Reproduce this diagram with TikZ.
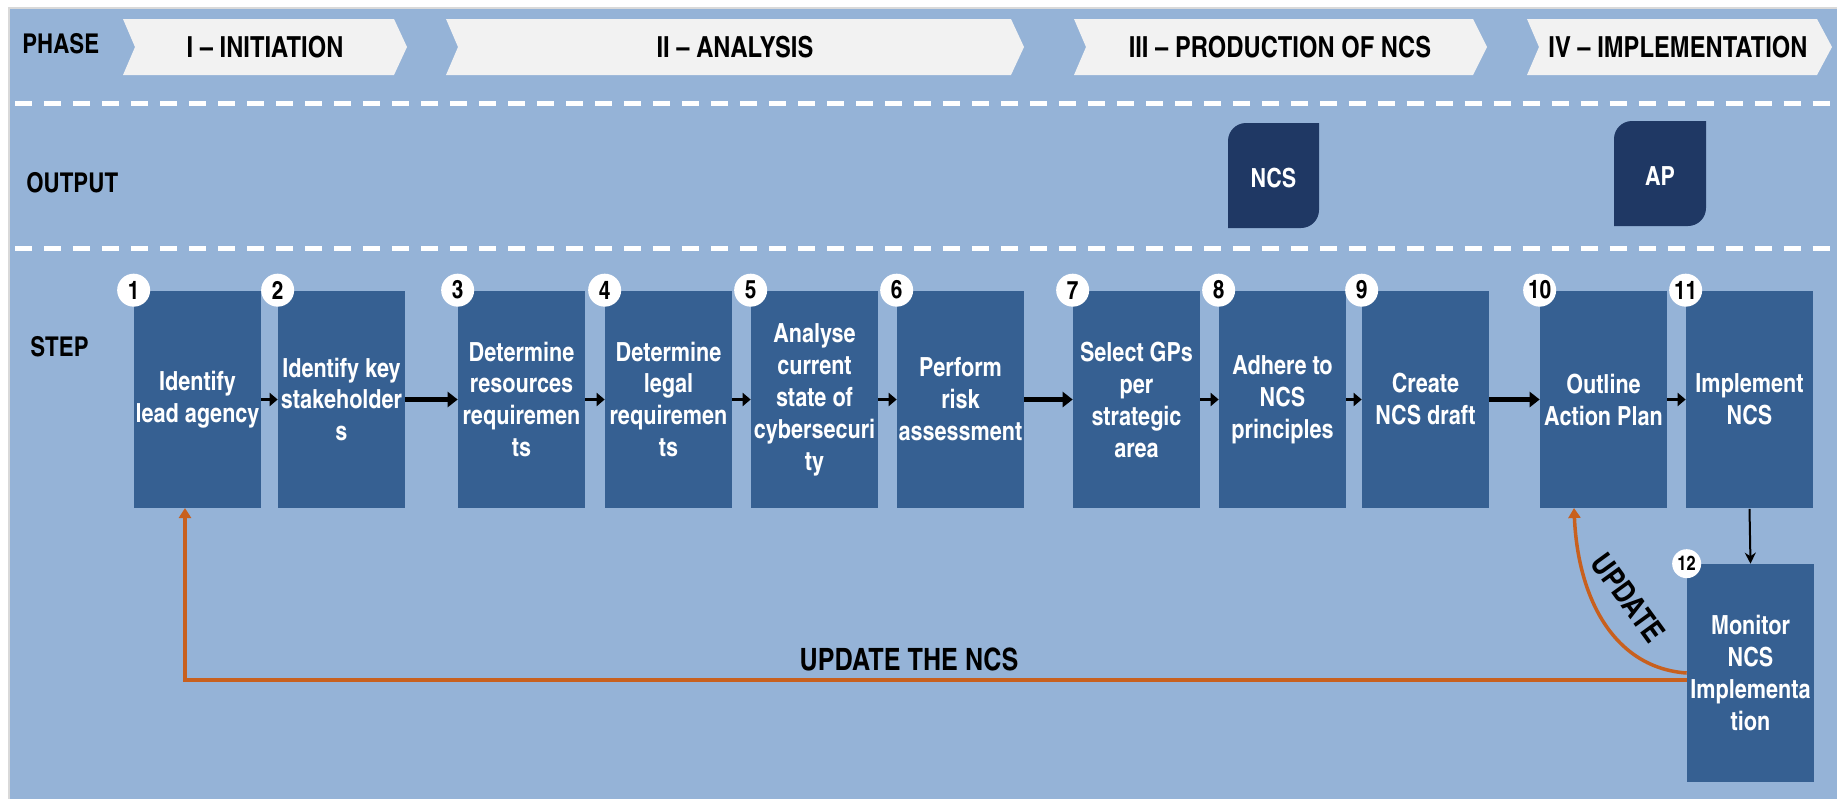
\documentclass[tikz,border=0pt]{standalone}
\usepackage{fontspec}
\setmainfont{texgyreheroscn}[Extension=.otf, UprightFont=*-regular, BoldFont=*-bold, ItalicFont=*-italic, BoldItalicFont=*-bolditalic]
\usetikzlibrary{arrows.meta}
\definecolor{bgblue}{HTML}{95B3D7}
\definecolor{boxblue}{HTML}{366092}
\definecolor{outnavy}{HTML}{1F3864}
\definecolor{chevgrey}{HTML}{F2F2F2}
\definecolor{updorange}{HTML}{C8601E}
\definecolor{edgegrey}{HTML}{D9D9D9}

\begin{document}
\begin{tikzpicture}[x=0.02cm, y=0.02cm]
\tikzstyle{every node}+=[inner sep=0pt]
\tikzstyle{stepbox}=[fill=boxblue, text=white, minimum width=2.54cm, minimum height=4.36cm, align=center, font=\fontsize{15}{18.2}\selectfont\bfseries]
\tikzstyle{numdot}=[circle, fill=white, minimum size=0.66cm, font=\fontsize{14.5}{16}\selectfont\bfseries]
\tikzstyle{rowlabel}=[anchor=west, font=\fontsize{15.5}{18}\selectfont\bfseries]
\tikzstyle{phasetext}=[font=\fontsize{16.5}{18}\selectfont\bfseries]
\tikzstyle{outtext}=[text=white, font=\fontsize{15}{18}\selectfont\bfseries]
\tikzstyle{updtext}=[font=\fontsize{17.5}{19}\selectfont\bfseries]
\tikzstyle{divider}=[white, line width=0.1cm, dash pattern=on 0.34cm off 0.24cm]
\tikzstyle{thinarrow}=[black, line width=0.06cm, -{Triangle[length=0.16cm,width=0.26cm]}]
\tikzstyle{thickarrow}=[black, line width=0.1cm, -{Triangle[length=0.2cm,width=0.3cm]}]
\tikzstyle{downarrow}=[black, line width=0.04cm, -{Stealth[length=0.22cm,width=0.22cm]}]
\tikzstyle{updline}=[updorange, line width=0.07cm, -{Triangle[length=0.2cm,width=0.24cm]}]
\useasboundingbox (0,0) rectangle (1837,-799);
\fill [white] (0,0) rectangle (1837,-799);
\fill [bgblue] (10,-9) rectangle (1837,-799);
\draw [edgegrey, line width=0.04cm] (9,-799) -- (9,-8) -- (1837,-8);
% phase row
\fill [chevgrey] (123,-19) -- (394,-19) -- (407,-47) -- (394,-75) -- (123,-75) -- (135,-47) -- cycle;
\node [phasetext] (ph1) at (265,-47) {I \textendash{} INITIATION};
\fill [chevgrey] (446,-19) -- (1011,-19) -- (1024,-47) -- (1011,-75) -- (446,-75) -- (458,-47) -- cycle;
\node [phasetext] (ph2) at (735,-47) {II \textendash{} ANALYSIS};
\fill [chevgrey] (1074,-19) -- (1473,-19) -- (1487,-47) -- (1473,-75) -- (1074,-75) -- (1086,-47) -- cycle;
\node [phasetext] (ph3) at (1280,-47) {III \textendash{} PRODUCTION OF NCS};
\fill [chevgrey] (1527,-19) -- (1817,-19) -- (1832,-47) -- (1817,-75) -- (1527,-75) -- (1539,-47) -- cycle;
\node [phasetext] (ph4) at (1678,-47) {IV \textendash{} IMPLEMENTATION};
\draw [divider] (15,-103) -- (1837,-103);
\draw [divider] (15,-248) -- (1837,-248);
\node [rowlabel] (phase) at (22,-44) {PHASE};
\node [rowlabel] (output) at (26,-183) {OUTPUT};
\node [rowlabel] (step) at (30,-347) {STEP};
% outputs
\fill [outnavy] (1228,-228) -- (1228,-141) arc (180:90:18) -- (1319,-123) -- (1319,-210) arc (0:-90:18) -- cycle;
\node [outtext] (ncs) at (1273.5,-178) {NCS};
\fill [outnavy] (1614,-226) -- (1614,-139) arc (180:90:18) -- (1706,-121) -- (1706,-208) arc (0:-90:18) -- cycle;
\node [outtext] (ap) at (1660,-176) {AP};
% steps
\node [stepbox] (b1) at (197.5,-399.5) {Identify\\lead agency};
\node [stepbox] (b2) at (341.5,-399.5) {Identify key\\stakeholder\\s};
\node [stepbox] (b3) at (521.5,-399.5) {Determine\\resources\\requiremen\\ts};
\node [stepbox] (b4) at (668.5,-399.5) {Determine\\legal\\requiremen\\ts};
\node [stepbox] (b5) at (814.5,-399.5) {Analyse\\current\\state of\\cybersecuri\\ty};
\node [stepbox] (b6) at (960.5,-399.5) {Perform\\risk\\assessment};
\node [stepbox] (b7) at (1136.5,-399.5) {Select GPs\\per\\strategic\\area};
\node [stepbox] (b8) at (1282.5,-399.5) {Adhere to\\NCS\\principles};
\node [stepbox] (b9) at (1425.5,-399.5) {Create\\NCS draft};
\node [stepbox] (b10) at (1603.5,-399.5) {Outline\\Action Plan};
\node [stepbox] (b11) at (1749.5,-399.5) {Implement\\NCS};
\node [stepbox] (b12) at (1750.5,-673) {Monitor\\NCS\\Implementa\\tion};
\node [numdot] (n1) at (b1.north west) {1};
\node [numdot] (n2) at (b2.north west) {2};
\node [numdot] (n3) at (b3.north west) {3};
\node [numdot] (n4) at (b4.north west) {4};
\node [numdot] (n5) at (b5.north west) {5};
\node [numdot] (n6) at (b6.north west) {6};
\node [numdot] (n7) at (b7.north west) {7};
\node [numdot] (n8) at (b8.north west) {8};
\node [numdot] (n9) at (b9.north west) {9};
\node [numdot] (n10) at (b10.north west) {10};
\node [numdot] (n11) at (b11.north west) {11};
\node [numdot, minimum size=0.58cm, font=\fontsize{11.5}{13}\selectfont\bfseries] (n12) at (b12.north west) {12};
\draw [thinarrow] (b1) -- (b2);
\draw [thickarrow] (b2) -- (b3);
\draw [thinarrow] (b3) -- (b4);
\draw [thinarrow] (b4) -- (b5);
\draw [thinarrow] (b5) -- (b6);
\draw [thickarrow] (b6) -- (b7);
\draw [thinarrow] (b7) -- (b8);
\draw [thinarrow] (b8) -- (b9);
\draw [thickarrow] (b9) -- (b10);
\draw [thinarrow] (b10) -- (b11);
\draw [downarrow] (b11.south) -- (b12.north);
% update loops
\coordinate (upd1) at (185,-508);
\draw [updline] ([yshift=-0.14cm]b12.west) -| (upd1);
\node [updtext] (updall) at (909,-659) {UPDATE THE NCS};
\coordinate (upd3) at (1574,-508);
\draw [updline] (b12.west) .. controls (1615,-668) and (1578,-600) .. (upd3);
\node [updtext, rotate=-54] (updap) at (1628,-598) {UPDATE};
\end{tikzpicture}
\end{document}
